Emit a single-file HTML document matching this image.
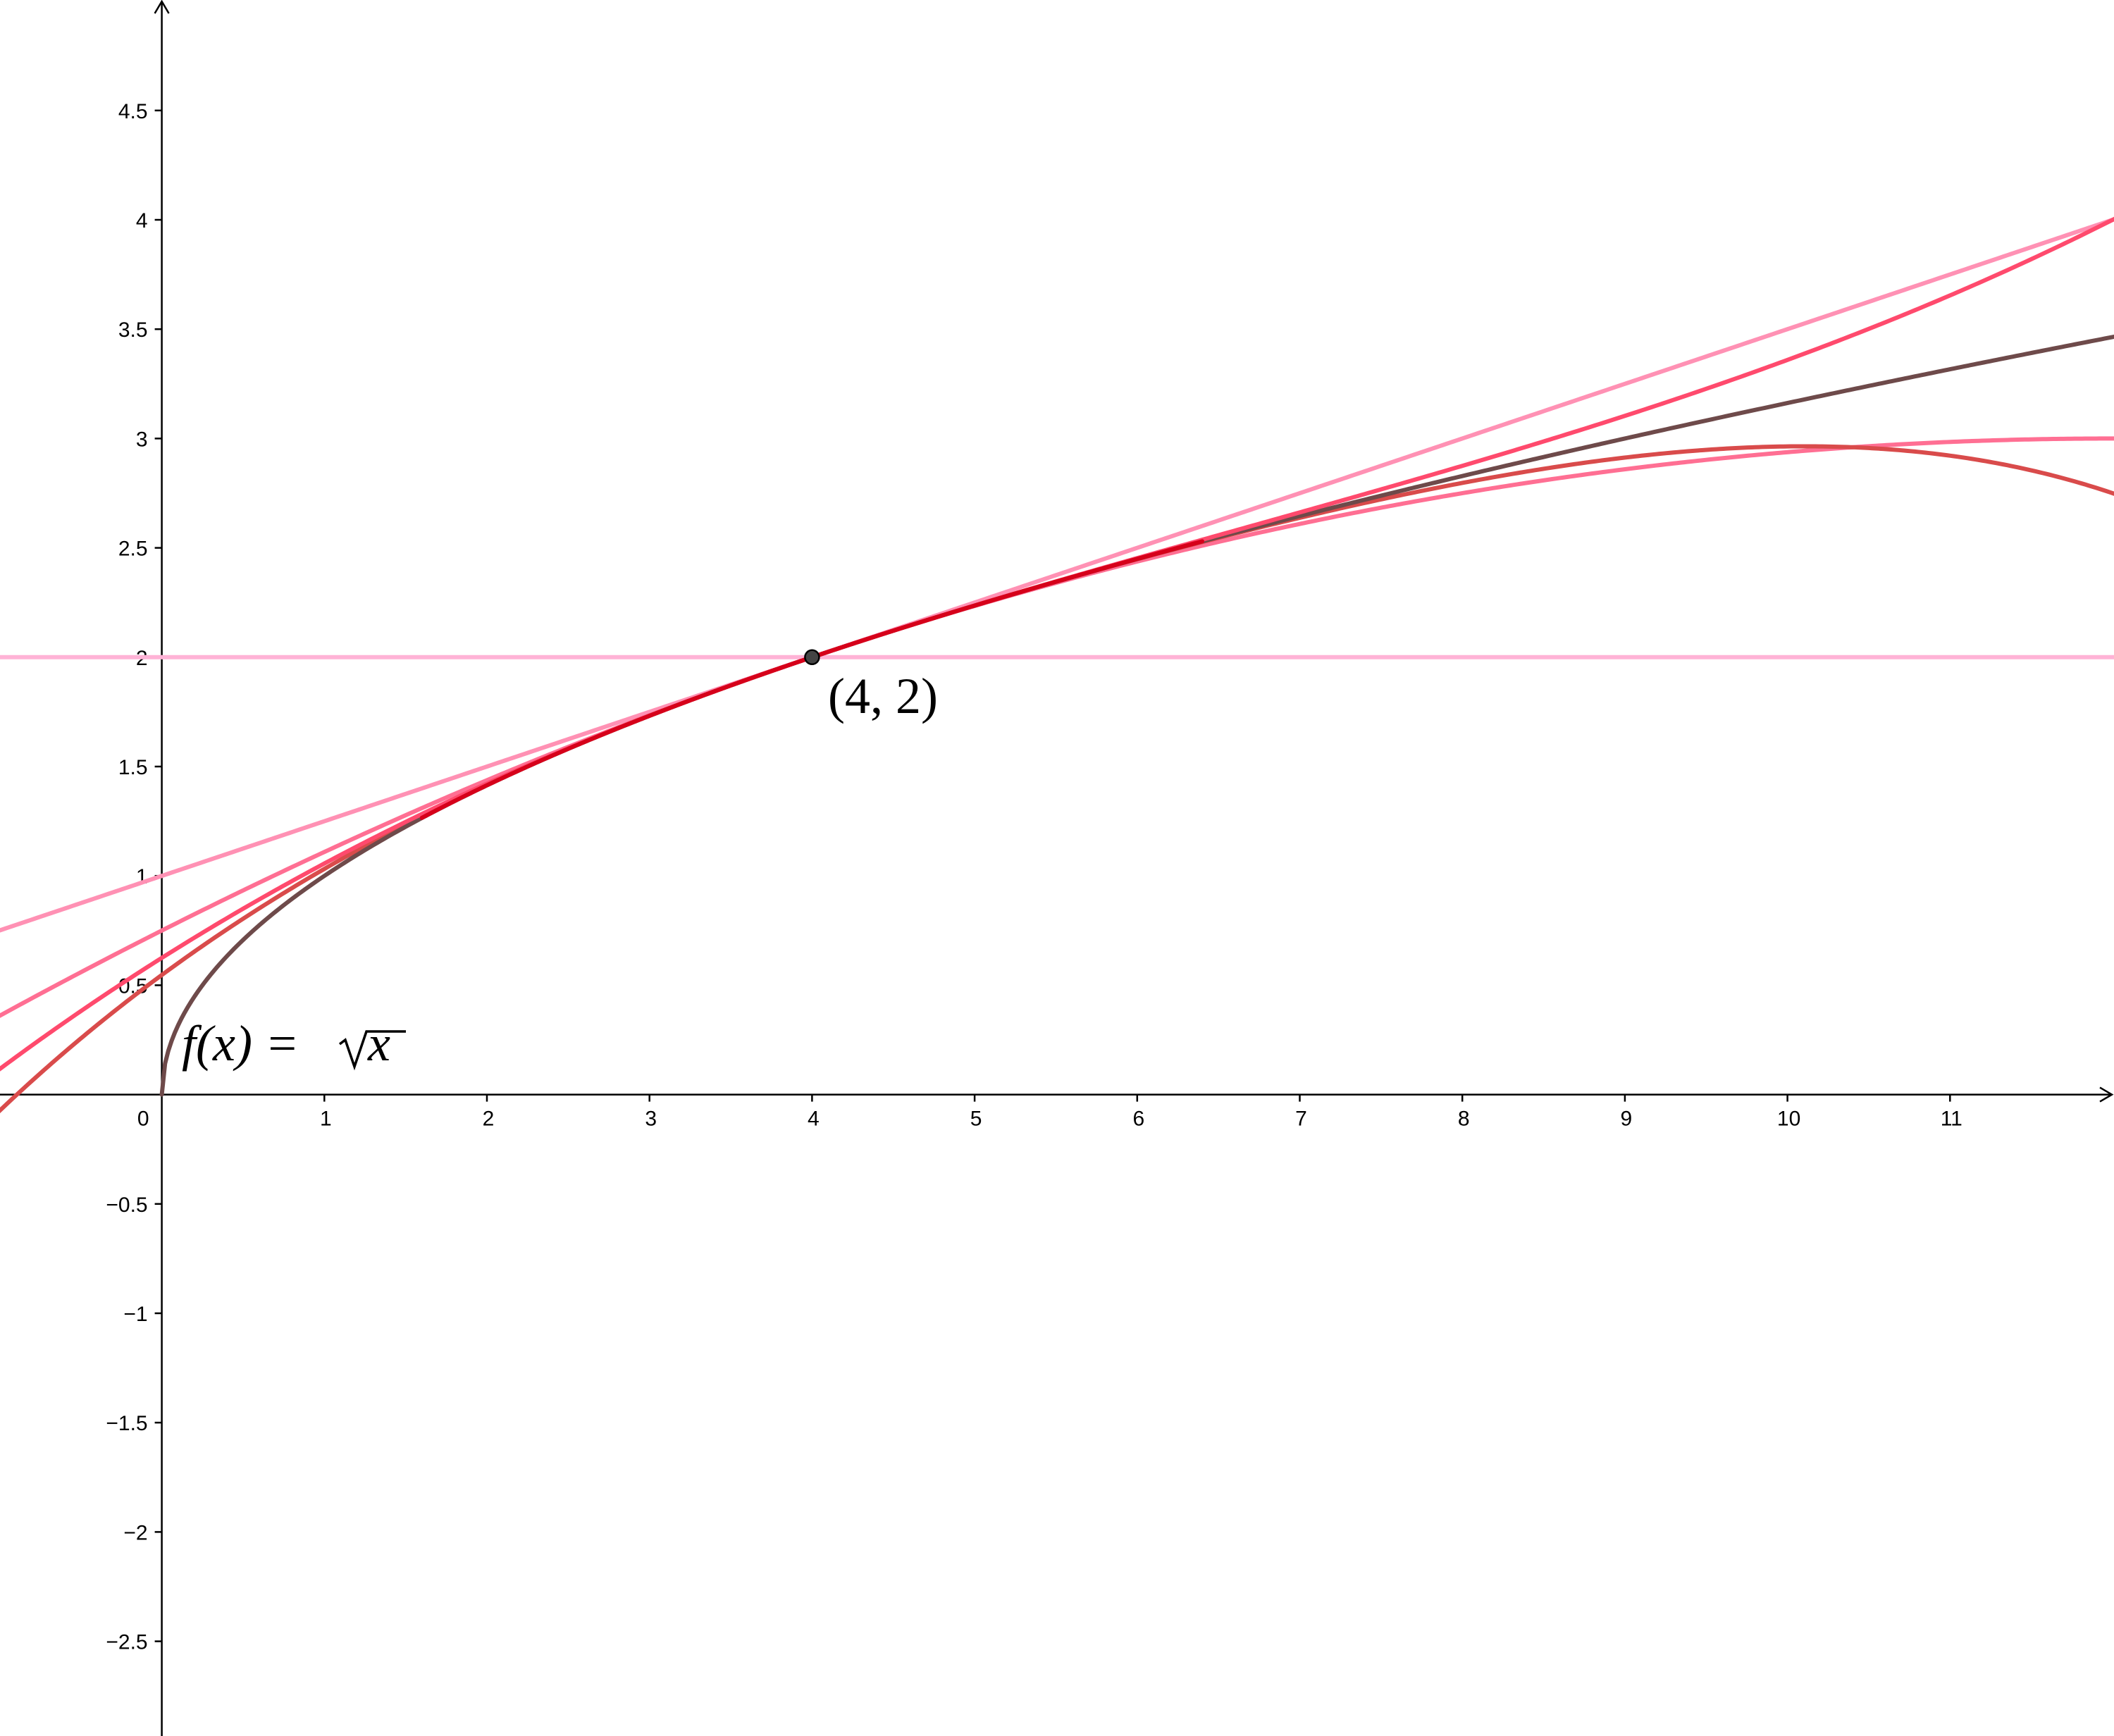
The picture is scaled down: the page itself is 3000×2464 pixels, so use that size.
<!DOCTYPE html>
<html><head><meta charset="utf-8"><style>
html,body{margin:0;padding:0;background:#fff;}
svg{display:block;}
.tk{font-family:"Liberation Sans",sans-serif;font-size:30px;fill:#000;}
.math{font-family:"Liberation Serif",serif;font-size:72px;fill:#000;}
</style></head><body>
<svg id="chart" width="3000" height="2464" viewBox="0 0 3000 2464" xmlns="http://www.w3.org/2000/svg">
<g id="axes"></g>
<g id="curves"></g>
<g id="labels"></g>
</svg>
<script>
const xTicks = [1,2,3,4,5,6,7,8,9,10,11];
const yTicks = [-2.5,-2,-1.5,-1,-0.5,0.5,1,1.5,2,2.5,3,3.5,4,4.5];
const yTickLabels = ["\u22122.5","\u22122","\u22121.5","\u22121","\u22120.5","0.5","1","1.5","2","2.5","3","3.5","4","4.5"];
const center = [4, 2];
const coefT0 = [2];
const coefT1 = [2, 0.25];
const coefT2 = [2, 0.25, -1/64];
const coefT3 = [2, 0.25, -1/64, 1/512];
const coefT4 = [2, 0.25, -1/64, 1/512, -5/16384];
const coefHigh = [2, 0.25, -1/64, 1/512, -5/16384, 7/131072, -21/2097152, 33/16777216, -429/1073741824];
const highDomain = [1.6, 6.4];

const X0=229.6, Y0=1553.6, UX=230.7, UY=310.4;
const sx = v => X0 + v*UX;
const sy = v => Y0 - v*UY;
const NS="http://www.w3.org/2000/svg";
const axes=document.getElementById('axes'), curves=document.getElementById('curves'), labels=document.getElementById('labels');
function mk(tag, attrs, parent){const e=document.createElementNS(NS,tag);for(const k in attrs)e.setAttribute(k,attrs[k]);parent.appendChild(e);return e;}

let xa=mk('line',{x1:0,y1:Y0,x2:2996,y2:Y0,stroke:'#000','stroke-width':2.5},axes);


let xarr=mk('path',{d:`M2980,${Y0-10} L2997,${Y0} L2980,${Y0+10}`,fill:'none',stroke:'#000','stroke-width':2.5},axes);


let ya=mk('line',{x1:X0,y1:3,x2:X0,y2:2464,stroke:'#000','stroke-width':2.5},axes);


let yarr=mk('path',{d:`M${X0-10},19 L${X0},2 L${X0+10},19`,fill:'none',stroke:'#000','stroke-width':2.5},axes);



xTicks.forEach(v=>{
  const t=mk('line',{x1:sx(v),y1:Y0,x2:sx(v),y2:Y0+10,stroke:'#000','stroke-width':2.5},axes);
  
  
  const l=mk('text',{x:sx(v)+2,y:Y0+44,'text-anchor':'middle',class:'tk'},axes);
  l.textContent=String(v);
  
  
});
yTicks.forEach((v,i)=>{
  const t=mk('line',{x1:X0-10,y1:sy(v),x2:X0,y2:sy(v),stroke:'#000','stroke-width':2.5},axes);
  
  
  const l=mk('text',{x:X0-20,y:sy(v)+11,'text-anchor':'end',class:'tk'},axes);
  l.textContent=yTickLabels[i];
  
  
});
const zl=mk('text',{x:X0-18,y:Y0+44,'text-anchor':'end',class:'tk'},axes);
zl.textContent='0';



function poly(c,x){let s=0,p=1;for(let i=0;i<c.length;i++){s+=c[i]*p;p*=(x-center[0]);}return s;}
function drawFn(fn,a,b,color,name,w){
  let d='';const n=600;
  for(let i=0;i<=n;i++){const x=a+(b-a)*i/n;const y=fn(x);d+=(i?'L':'M')+sx(x).toFixed(2)+','+sy(y).toFixed(2);}
  const p=mk('path',{d:d,fill:'none',stroke:color,'stroke-width':w||6,'stroke-linejoin':'round','stroke-linecap':'round'},curves);
  
  
}
const L=-1.05, R=12.05;
drawFn(x=>poly(coefT0,x),L,R,'#ffb3d6','taylor-t0',6);
drawFn(x=>poly(coefT1,x),L,R,'#ff91b4','taylor-t1',6);
drawFn(x=>poly(coefT2,x),L,R,'#ff6f93','taylor-t2',6);
drawFn(x=>poly(coefT4,x),L,R,'#d94b4b','taylor-t4',6);
drawFn(x=>Math.sqrt(Math.max(x,0)),0,R,'#6e4a4a','f-sqrt-x',6);
drawFn(x=>poly(coefT3,x),L,R,'#ff4a6d','taylor-t3',6);
drawFn(x=>poly(coefHigh,x),highDomain[0],highDomain[1],'#d6001a','taylor-high',6);

const pt=mk('circle',{cx:sx(center[0]),cy:sy(center[1]),r:10,fill:'#444',stroke:'#000','stroke-width':2.5},labels);


const pl=mk('text',{x:1175,y:1012,class:'math'},labels);
pl.textContent='(4, 2)';


const fl=mk('text',{x:258,y:1505,class:'math','font-style':'italic'},labels);
fl.textContent='f(x) = ';


const rad=mk('path',{d:'M482,1482 L490,1476 L503,1514 L520,1464 L576,1464',fill:'none',stroke:'#000','stroke-width':3.5,'stroke-linejoin':'miter'},labels);


const fx=mk('text',{x:522,y:1505,class:'math','font-style':'italic'},labels);
fx.textContent='x';


</script>
</body></html>
